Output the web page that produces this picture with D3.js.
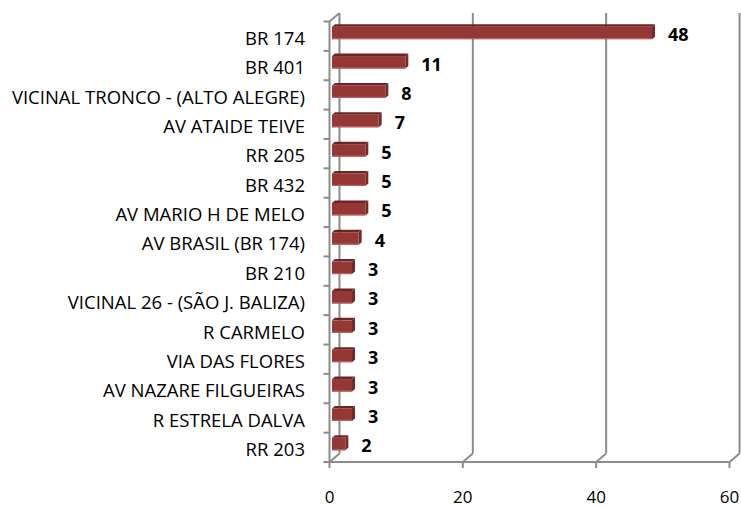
<!DOCTYPE html>
<html>
<head>
<meta charset="utf-8">
<script src="https://cdn.jsdelivr.net/npm/d3@7"></script>
<style>
  body { margin: 0; background: #fff; }
  svg { display: block; }
  text { font-family: "Open Sans", "Liberation Sans", sans-serif; }
</style>
</head>
<body>
<svg width="741" height="507"></svg>
<script>
// data
var categories = ["BR 174", "BR 401", "VICINAL TRONCO - (ALTO ALEGRE)", "AV ATAIDE TEIVE",
  "RR 205", "BR 432", "AV MARIO H DE MELO", "AV BRASIL (BR 174)", "BR 210",
  "VICINAL 26 - (SÃO J. BALIZA)", "R CARMELO", "VIA DAS FLORES", "AV NAZARE FILGUEIRAS",
  "R ESTRELA DALVA", "RR 203"];
var values = [48, 11, 8, 7, 5, 5, 5, 4, 3, 3, 3, 3, 3, 3, 2];
var ticks = [0, 20, 40, 60];

var svg = d3.select("svg");

// front plane scales
var x = d3.scaleLinear().domain([0, 60]).range([329.5, 729.5]);
var y = d3.scaleBand().domain(categories).range([21.5, 462]).padding(0);

// 3d depth offset of the back wall
var dx = 10, dy = -8.5;
var gridColor = "#8c8c8c";

var axes = svg.append("g").attr("stroke", gridColor).attr("stroke-width", 2).attr("fill", "none");

// back wall gridlines
axes.selectAll("line.grid").data(ticks).enter().append("line")
  .attr("class", "grid")
  .attr("x1", d => x(d) + dx).attr("x2", d => x(d) + dx)
  .attr("y1", y.range()[0] + dy).attr("y2", y.range()[1] + dy);

// floor: front edge, slants and ticks
axes.append("line")
  .attr("x1", x(0)).attr("x2", x(60))
  .attr("y1", y.range()[1]).attr("y2", y.range()[1]);
axes.selectAll("line.slant").data(ticks).enter().append("line")
  .attr("class", "slant")
  .attr("x1", d => x(d)).attr("x2", d => x(d) + dx)
  .attr("y1", y.range()[1]).attr("y2", y.range()[1] + dy);
axes.selectAll("line.xtick").data(ticks).enter().append("line")
  .attr("class", "xtick")
  .attr("x1", d => x(d)).attr("x2", d => x(d))
  .attr("y1", y.range()[1]).attr("y2", y.range()[1] + 6);

// left side wall
axes.append("line")
  .attr("x1", x(0)).attr("x2", x(0))
  .attr("y1", y.range()[0]).attr("y2", y.range()[1]);
axes.append("line")
  .attr("x1", x(0)).attr("x2", x(0) + dx)
  .attr("y1", y.range()[0]).attr("y2", y.range()[0] + dy);
var bounds = categories.map(c => y(c)).concat([y.range()[1]]);
axes.selectAll("line.ytick").data(bounds).enter().append("line")
  .attr("class", "ytick")
  .attr("x1", x(0) - 6).attr("x2", x(0))
  .attr("y1", d => d).attr("y2", d => d);

// bars
var bd = 2.5, tdx = 3, tdy = -2.5, bh = 12.5;
var bars = svg.append("g").selectAll("g").data(categories).enter().append("g");

function frontTop(d) { return y(d) + y.bandwidth() / 2 - 9.5; }

bars.append("path") // top face
  .attr("fill", "#6b2523")
  .attr("d", (d, i) => {
    var x0 = x(0) + bd, x1 = x(values[i]) + bd, t = frontTop(d);
    return "M" + x0 + "," + t + "L" + x1 + "," + t + "L" + (x1 + tdx) + "," + (t + tdy) +
      "L" + (x0 + tdx) + "," + (t + tdy) + "Z";
  });
bars.append("path") // side face
  .attr("fill", "#742a28")
  .attr("d", (d, i) => {
    var x1 = x(values[i]) + bd, t = frontTop(d);
    return "M" + x1 + "," + t + "L" + (x1 + tdx) + "," + (t + tdy) + "L" + (x1 + tdx) + "," + (t + tdy + bh) +
      "L" + x1 + "," + (t + bh) + "Z";
  });
bars.append("rect") // front face
  .attr("fill", "#953735")
  .attr("x", x(0) + bd)
  .attr("y", d => frontTop(d))
  .attr("width", (d, i) => x(values[i]) - x(0))
  .attr("height", bh);
bars.append("rect") // light lower edge
  .attr("fill", "#b56462")
  .attr("x", x(0) + bd)
  .attr("y", d => frontTop(d) + bh - 1.2)
  .attr("width", (d, i) => x(values[i]) - x(0))
  .attr("height", 1.2);

// value labels
bars.append("text")
  .attr("x", (d, i) => x(values[i]) + bd + 16)
  .attr("y", d => y(d) + y.bandwidth() / 2 - 1.5)
  .attr("dy", "0.36em")
  .attr("font-size", 18)
  .attr("font-weight", "bold")
  .attr("fill", "#000")
  .text((d, i) => values[i]);

// category labels
svg.append("g").selectAll("text").data(categories).enter().append("text")
  .attr("x", 305)
  .attr("y", d => y(d) + y.bandwidth() / 2 + 2)
  .attr("dy", "0.36em")
  .attr("text-anchor", "end")
  .attr("font-size", 18.5)
  .attr("fill", "#000")
  .text(d => d);

// value axis labels
svg.append("g").selectAll("text").data(ticks).enter().append("text")
  .attr("x", d => x(d))
  .attr("y", 497)
  .attr("dy", "0.36em")
  .attr("text-anchor", "middle")
  .attr("font-size", 17)
  .attr("fill", "#000")
  .text(d => d);
</script>
</body>
</html>
